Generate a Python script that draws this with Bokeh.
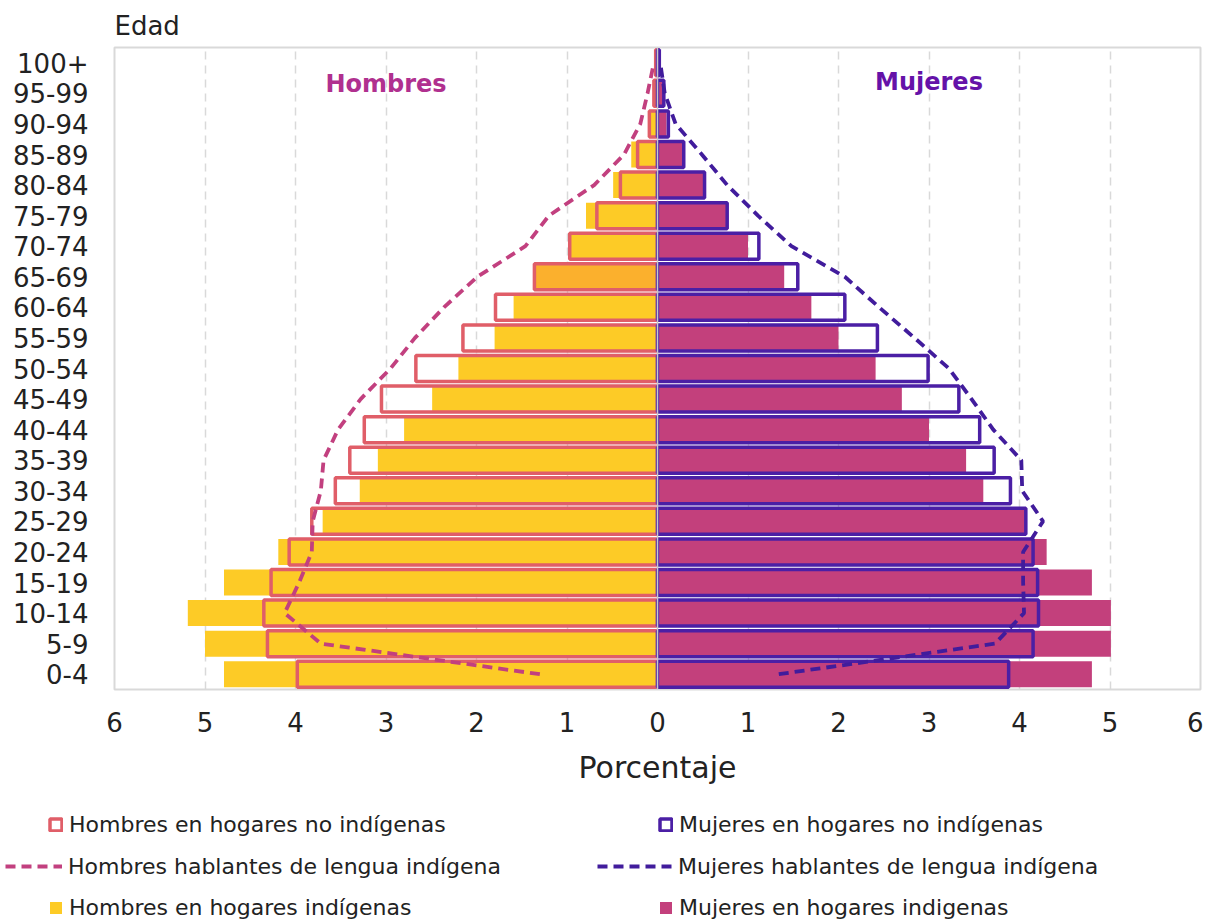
from bokeh.plotting import figure
from bokeh.layouts import column
from bokeh.models import (ColumnDataSource, FactorRange, Range1d, FixedTicker, Span,
                          Label, Legend, LegendItem)
from bokeh.embed import file_html
from bokeh.resources import INLINE

# ---------------- data (bottom to top) ----------------
categories = ["0-4", "5-9", "10-14", "15-19", "20-24", "25-29", "30-34", "35-39",
              "40-44", "45-49", "50-54", "55-59", "60-64", "65-69", "70-74", "75-79",
              "80-84", "85-89", "90-94", "95-99", "100+"]

hombres_hogares_indigenas = [4.79, 5.00, 5.19, 4.79, 4.19, 3.70, 3.29, 3.09, 2.80, 2.49,
                             2.20, 1.80, 1.59, 1.35, 0.97, 0.79, 0.49, 0.29, 0.08, 0.03, 0.01]
hombres_hogares_no_indigenas = [3.98, 4.31, 4.35, 4.27, 4.07, 3.82, 3.56, 3.40, 3.24, 3.05,
                                2.67, 2.15, 1.79, 1.36, 0.97, 0.67, 0.41, 0.22, 0.09, 0.04, 0.02]
mujeres_hogares_indigenas = [4.80, 5.01, 5.01, 4.80, 4.30, 4.06, 3.60, 3.41, 3.00, 2.70,
                             2.41, 2.00, 1.70, 1.40, 1.00, 0.76, 0.51, 0.28, 0.10, 0.07, 0.02]
mujeres_hogares_no_indigenas = [3.88, 4.15, 4.21, 4.20, 4.15, 4.07, 3.90, 3.72, 3.56, 3.33,
                                2.99, 2.43, 2.07, 1.55, 1.12, 0.77, 0.52, 0.29, 0.12, 0.07, 0.02]
hombres_hablantes = [1.30, 3.72, 4.12, 3.96, 3.82, 3.81, 3.72, 3.69, 3.53, 3.28,
                     2.95, 2.68, 2.36, 1.99, 1.46, 1.20, 0.70, 0.37, 0.19, 0.11, 0.04]
mujeres_hablantes = [1.34, 3.73, 4.05, 4.04, 4.04, 4.26, 4.03, 4.02, 3.71, 3.47,
                     3.22, 2.84, 2.45, 2.07, 1.48, 1.11, 0.77, 0.49, 0.20, 0.08, 0.03]

x_ticks = list(range(-6, 7))

# ---------------- styles ----------------
FONT = "DejaVu Sans"
TXT = "#222222"
YELLOW = "#FDCB26"
ORANGE = "#FBB02D"
RED = "#E05E68"
MAGENTA = "#C3407C"
PURPLE = "#4B1FA5"
DASH_M = "#C2407F"
DASH_F = "#411C9C"
GRID = "#D9D9D9"
BH = 0.85
OLW = 3.5
DLW = 3.8
DASH = "10 6"

src = ColumnDataSource(dict(
    cat=categories,
    h_ind=[-v for v in hombres_hogares_indigenas],
    h_noind=[-v for v in hombres_hogares_no_indigenas],
    m_ind=mujeres_hogares_indigenas,
    m_noind=mujeres_hogares_no_indigenas,
    h_habl=[-v for v in hombres_hablantes],
    m_habl=mujeres_hablantes,
    h_color=[ORANGE if c == "65-69" else YELLOW for c in categories],
))


def draw_series(fig, visible=True):
    r = {}
    r["h_ind"] = fig.hbar(y="cat", left="h_ind", right=0, height=BH, fill_color="h_color",
                          line_color=None, source=src, visible=visible)
    r["m_ind"] = fig.hbar(y="cat", left=0, right="m_ind", height=BH, fill_color=MAGENTA,
                          line_color=None, source=src, visible=visible)
    r["h_noind"] = fig.hbar(y="cat", left="h_noind", right=0, height=BH, fill_color=None,
                            line_color=RED, line_width=OLW, source=src, visible=visible)
    r["m_noind"] = fig.hbar(y="cat", left=0, right="m_noind", height=BH, fill_color=None,
                            line_color=PURPLE, line_width=OLW, source=src, visible=visible)
    r["h_habl"] = fig.line(x="h_habl", y="cat", line_color=DASH_M, line_width=DLW,
                           line_dash=DASH, source=src, visible=visible)
    r["m_habl"] = fig.line(x="m_habl", y="cat", line_color=DASH_F, line_width=DLW,
                           line_dash=DASH, source=src, visible=visible)
    return r


W = 1203
p = figure(width=W, height=790, y_range=FactorRange(factors=categories),
           x_range=Range1d(-6, 6), output_backend="svg", toolbar_location=None,
           min_border_left=114, min_border_right=3, min_border_top=47,
           min_border_bottom=101, title="Edad")
p.frame_align = False

p.title.text_font = FONT
p.title.text_font_size = "26px"
p.title.text_font_style = "normal"
p.title.text_color = TXT
p.title.align = "left"
p.title.standoff = 13

draw_series(p)

p.add_layout(Span(location=0, dimension="height", line_color="#C8C8C8", line_width=1.5))

# axes
p.xaxis.ticker = FixedTicker(ticks=x_ticks)
p.xaxis.major_label_overrides = {t: str(abs(t)) for t in x_ticks}
p.xaxis.axis_label = "Porcentaje"
p.xaxis.axis_label_text_font = FONT
p.xaxis.axis_label_text_font_size = "30px"
p.xaxis.axis_label_text_font_style = "normal"
p.xaxis.axis_label_text_color = TXT
p.xaxis.axis_label_standoff = 15
p.xaxis.major_label_standoff = 22
for ax in (p.xaxis, p.yaxis):
    ax.axis_line_color = None
    ax.major_tick_line_color = None
    ax.minor_tick_line_color = None
    ax.major_tick_out = 0
    ax.major_tick_in = 0
    ax.major_label_text_font = FONT
    ax.major_label_text_font_size = "26px"
    ax.major_label_text_color = TXT
p.yaxis.major_label_standoff = 26

p.ygrid.grid_line_color = None
p.xgrid.ticker = FixedTicker(ticks=[t for t in x_ticks if t not in (-6, 0, 6)])
p.xgrid.grid_line_color = GRID
p.xgrid.grid_line_width = 1.5
p.xgrid.grid_line_dash = "8 6"

p.outline_line_color = GRID
p.outline_line_width = 2
p.background_fill_color = "white"
p.border_fill_color = "white"

p.add_layout(Label(x=-3.0, y=19.8, text="Hombres", text_align="center",
                   text_baseline="middle", text_font=FONT, text_font_size="24px",
                   text_font_style="bold", text_color="#B0308F"))
p.add_layout(Label(x=3.0, y=19.87, text="Mujeres", text_align="center",
                   text_baseline="middle", text_font=FONT, text_font_size="24px",
                   text_font_style="bold", text_color="#6512A8"))

# ---------------- legend figure (same series as hidden renderers; only legends show) --
LH = 133
lg = figure(width=W, height=LH, y_range=FactorRange(factors=categories),
            x_range=Range1d(-6, 6), output_backend="svg", toolbar_location=None,
            min_border=0, min_border_left=0, min_border_right=0, min_border_top=0,
            min_border_bottom=0, x_axis_type=None, y_axis_type=None)
lg.frame_align = False
lg.outline_line_color = None
lg.grid.visible = False
lr = draw_series(lg, visible=False)


def add_leg(label, r, vx, vy, gw, gh):
    leg = Legend(items=[LegendItem(label=label, renderers=[r])], location=(vx, vy),
                 orientation="horizontal", glyph_width=gw, glyph_height=gh,
                 label_standoff=6, padding=0, margin=0, spacing=0,
                 border_line_color=None, background_fill_alpha=0,
                 inactive_fill_alpha=0,
                 label_text_font=FONT, label_text_font_size="22px",
                 label_text_color=TXT, label_height=26)
    lg.add_layout(leg)


add_leg("Hombres en hogares no indígenas", lr["h_noind"], 48, 86, 15, 15)
add_leg("Mujeres en hogares no indígenas", lr["m_noind"], 658, 86, 15, 15)
add_leg("Hombres hablantes de lengua indígena", lr["h_habl"], 5, 44, 57, 26)
add_leg("Mujeres hablantes de lengua indígena", lr["m_habl"], 597, 44, 75, 26)
add_leg("Hombres en hogares indígenas", lr["h_ind"], 48, 3, 15, 15)
add_leg("Mujeres en hogares indigenas", lr["m_ind"], 658, 3, 15, 15)

layout = column(p, lg, spacing=0)
open("out.html", "w").write(file_html(layout, INLINE))
